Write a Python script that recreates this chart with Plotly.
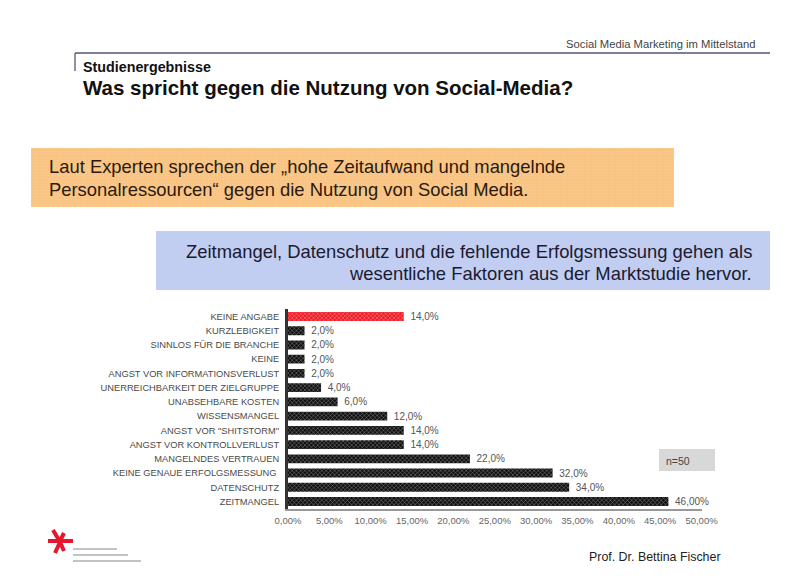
import plotly.graph_objects as go

categories = ["ZEITMANGEL", "DATENSCHUTZ", "KEINE GENAUE ERFOLGSMESSUNG\u00a0", "MANGELNDES VERTRAUEN",
              "ANGST VOR KONTROLLVERLUST", "ANGST VOR \"SHITSTORM\"", "WISSENSMANGEL",
              "UNABSEHBARE KOSTEN", "UNERREICHBARKEIT DER ZIELGRUPPE", "ANGST VOR INFORMATIONSVERLUST",
              "KEINE", "SINNLOS FÜR DIE BRANCHE", "KURZLEBIGKEIT", "KEINE ANGABE"]
values = [46, 34, 32, 22, 14, 14, 12, 6, 4, 2, 2, 2, 2, 14]
value_labels = ["46,00%", "34,0%", "32,0%", "22,0%", "14,0%", "14,0%", "12,0%",
                "6,0%", "4,0%", "2,0%", "2,0%", "2,0%", "2,0%", "14,0%"]
tick_values = [0, 5, 10, 15, 20, 25, 30, 35, 40, 45, 50]
tick_labels = ["0,00%", "5,00%", "10,00%", "15,00%", "20,00%", "25,00%", "30,00%",
               "35,00%", "40,00%", "45,00%", "50,00%"]
bar_colors = ["#101010"] * 13 + ["#ee1c25"]
pattern_colors = ["#2c2c2c"] * 13 + ["#d01a20"]

# The page body has an 8 px margin, so the figure is sized to fit inside the window.
OFFSET = 8
W, H = 800 - OFFSET, 585 - OFFSET
FONT = "Liberation Sans, Arial, sans-serif"
px = lambda x: (x - OFFSET) / W
py = lambda y: 1 - (y - OFFSET) / H

fig = go.Figure(go.Bar(
    y=categories, x=values, orientation="h",
    marker=dict(color=bar_colors, line=dict(width=0),
                pattern=dict(shape="x", size=3, solidity=0.3, fgcolor=pattern_colors, bgcolor=bar_colors)),
    text=["\u00a0\u200a" + t for t in value_labels], textposition="outside", cliponaxis=False, constraintext="none",
    textfont=dict(family=FONT, size=10, color="#555555"), showlegend=False,
))

shapes = []
def rect(x0, y0, x1, y1, color):
    shapes.append(dict(type="rect", xref="paper", yref="paper", x0=px(x0), x1=px(x1), y0=py(y0), y1=py(y1),
                       fillcolor=color, line=dict(width=0), layer="below"))
def line(x0, y0, x1, y1, color, width, layer="above"):
    shapes.append(dict(type="line", xref="paper", yref="paper", x0=px(x0), x1=px(x1), y0=py(y0), y1=py(y1),
                       line=dict(color=color, width=width), layer=layer))

rect(31, 148, 674, 207, "#fcca8e")
for gx in range(33, 674, 3):
    line(gx, 148, gx, 207, "#f6b873", 0.5, "below")
for gy in range(150, 207, 3):
    line(31, gy, 674, gy, "#f6b873", 0.5, "below")
rect(156, 231, 770, 290, "#c2cdf2")
rect(659, 449, 715, 471, "#d8d8d8")
line(75, 53, 770, 53, "#55557a", 1.3)
line(75, 53, 75, 71, "#55557a", 1.3)
# logo mark
for a in [(53, 530, 60, 542), (48, 541, 73, 541), (60, 542, 55, 553), (60, 542, 64, 551), (60, 541, 64, 533)]:
    line(*a, "#e5172c", 4)
# illegible logo wording, drawn as small blurred rules
line(73, 549, 117, 549, "#888888", 1.2)
line(73, 555, 128, 555, "#888888", 1.2)
line(73, 561, 141, 561, "#888888", 1.2)

notes = []
def note(x, y, s, size, color="#111111", bold=False, anchor="left"):
    notes.append(dict(xref="paper", yref="paper", x=px(x), y=py(y), text=f"<b>{s}</b>" if bold else s,
                      showarrow=False, xanchor=anchor, yanchor="middle", borderpad=0, borderwidth=0,
                      font=dict(family=FONT, size=size, color=color)))

note(755, 44, "Social Media Marketing im Mittelstand", 11.25, "#444444", anchor="right")
note(83, 67, "Studienergebnisse", 14.3, bold=True)
note(83, 88, "Was spricht gegen die Nutzung von Social-Media?", 20.5, bold=True)
note(49, 166, "Laut Experten sprechen der „hohe Zeitaufwand und mangelnde", 18.4, "#2a1a10")
note(49, 189, "Personalressourcen“ gegen die Nutzung von Social Media.", 18.4, "#2a1a10")
note(752, 251, "Zeitmangel, Datenschutz und die fehlende Erfolgsmessung gehen als", 18.4, "#1a1a30", anchor="right")
note(752, 273, "wesentliche Faktoren aus der Marktstudie hervor.", 18.4, "#1a1a30", anchor="right")
note(666, 461, "n=50", 10.5, "#444444")
note(721, 557, "Prof. Dr. Bettina Fischer", 12.4, "#222222", anchor="right")

fig.update_layout(
    width=W, height=H, margin=dict(l=0, r=0, t=0, b=0, autoexpand=False), autosize=False,
    paper_bgcolor="white", plot_bgcolor="white", bargap=0.38,
    font=dict(family=FONT), shapes=shapes, annotations=notes,
    xaxis=dict(domain=[px(288), px(701.5)], range=[0, 50], tickmode="array", tickvals=tick_values,
               ticktext=tick_labels, showgrid=False, zeroline=False, ticks="", showline=True,
               linecolor="#999999", linewidth=2, anchor="y", ticklabelstandoff=2,
               tickfont=dict(family=FONT, size=9.5, color="#666666")),
    yaxis=dict(domain=[py(508.6), py(309.4)], type="category", showgrid=False, zeroline=False, ticks="",
               showline=True, linecolor="#333333", linewidth=3, anchor="x", automargin=False,
               tickfont=dict(family=FONT, size=9.3, color="#4a4a4a"), ticklabelstandoff=4),
)
fig.write_html("out.html")
